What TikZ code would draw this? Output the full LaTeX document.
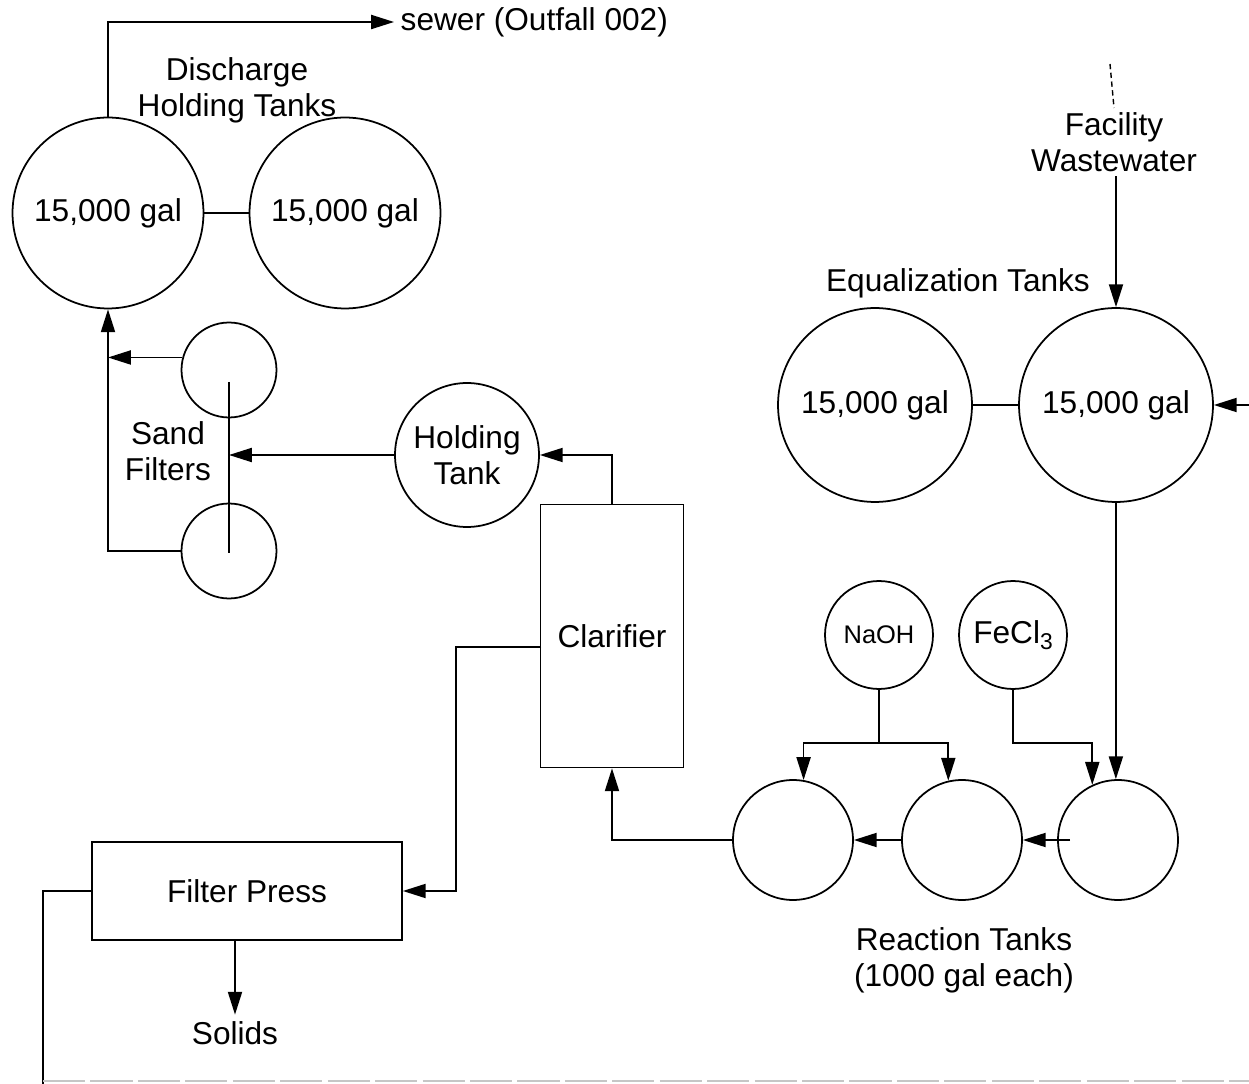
\documentclass[tikz,border=0pt]{standalone}
\usepackage{fontspec}
\setmainfont{Liberation Sans}
\usetikzlibrary{arrows.meta}

\begin{document}
\begin{tikzpicture}[x=0.02cm, y=-0.02cm, >={Triangle[length=13pt,width=8pt]},
    line width=1pt, font=\fontsize{18}{20.5}\selectfont,
    tank/.style={circle, draw, line width=1pt, inner sep=0pt},
    bigtank/.style={tank, minimum size=3.82cm},
    eqtank/.style={tank, minimum size=3.88cm},
    sandtank/.style={tank, minimum size=1.9cm},
    holdtank/.style={tank, minimum size=2.88cm},
    chemtank/.style={tank, minimum size=2.16cm},
    reacttank/.style={tank, minimum size=2.4cm},
    unit/.style={draw, line width=1pt, inner sep=0pt},
    lbl/.style={align=center, inner sep=2pt}]
    \useasboundingbox (0,0) rectangle (1249,1084);

    % discharge holding tanks
    \node[bigtank] (dh1) at (108,213) {15,000 gal};
    \node[bigtank] (dh2) at (345,213) {15,000 gal};
    \node[lbl] (dhlbl) at (237,90) {Discharge\\Holding Tanks};
    \node[anchor=west] (sewer) at (394,22) {sewer (Outfall 002)};

    % sand filters and holding tank
    \node[sandtank] (sf1) at (229,370) {};
    \node[sandtank] (sf2) at (229,551) {};
    \node[lbl] (sflbl) at (168,451) {Sand\\Filters};
    \coordinate (sftop) at (229,382);
    \coordinate (sfbot) at (229,553);
    \node[holdtank, align=center] (hold) at (467,455) {Holding\\Tank};

    % clarifier and filter press
    \node[unit, minimum width=2.86cm, minimum height=5.26cm] (clar) at (612,636) {Clarifier};
    \coordinate (clarout) at (541,647);
    \node[unit, minimum width=6.2cm, minimum height=1.96cm] (fpress) at (247,891) {Filter Press};
    \node (solids) at (235,1033) {Solids};
    \coordinate (botl) at (43,1084);
    \coordinate (botr) at (1249,1081);

    % equalization tanks
    \node[eqtank] (eq1) at (875,405) {15,000 gal};
    \node[eqtank] (eq2) at (1116,405) {15,000 gal};
    \node (eqlbl) at (958,283) {Equalization Tanks};
    \node[lbl] (fw) at (1114,142) {Facility\\Wastewater};
    \coordinate (fwtop) at (1110,64);
    \coordinate (eqin) at (1249,405);

    % chemicals and reaction tanks
    \node[chemtank, font=\fontsize{14.5}{16}\selectfont] (naoh) at (879,635) {NaOH};
    \node[chemtank] (fecl) at (1013,635) {FeCl\raisebox{-0.4ex}{\fontsize{13}{13}\selectfont 3}};
    \coordinate (nbar) at (879,743);
    \node[reacttank] (rt1) at (793,840) {};
    \node[reacttank] (rt2) at (962,840) {};
    \node[reacttank] (rt3) at (1118,840) {};
    \coordinate (rt3in) at (1070,840);
    \node[lbl] (rtlbl) at (964,960) {Reaction Tanks\\(1000 gal each)};

    % flows
    \draw[->] (dh1.north) |- (sewer.west);
    \draw (dh1) -- (dh2);
    \draw (sftop) -- (sfbot);
    \draw[->] (hold.west) -- (hold.west -| sftop);
    \draw[->] (sf1.165) -- (sf1.165 -| dh1.south);
    \draw[->] (sf2.west) -| (dh1.south);
    \draw[->] (clar.north) |- (hold.east);
    \draw[->] (clarout) -- ++(-85,0) |- (fpress.east);
    \draw[->] (fpress.south -| solids) -- (solids.north);
    \draw (fpress.west) -| (botl);
    \draw[gray!45, dash pattern=on 24pt off 3pt] (botl |- botr) -- (botr);

    \draw[dash pattern=on 3pt off 2pt, line width=0.8pt] (fwtop) -- (fw.north);
    \draw[->] (fw.south -| eq2) -- (eq2.north);
    \draw[->] (eqin) -- (eq2.east);
    \draw (eq1) -- (eq2);
    \draw[->] (eq2.south) -- (rt3.92);

    \draw (naoh.south) -- (nbar);
    \draw[->] (nbar) -| (rt1.80);
    \draw[->] (nbar) -| (rt2.103);
    \draw[->] (fecl.south) -- (fecl.south |- nbar) -| (rt3.115);
    \draw[->] (rt3in) -- (rt2.east);
    \draw[->] (rt2.west) -- (rt1.east);
    \draw[->] (rt1.west) -| (clar.south);
\end{tikzpicture}
\end{document}
